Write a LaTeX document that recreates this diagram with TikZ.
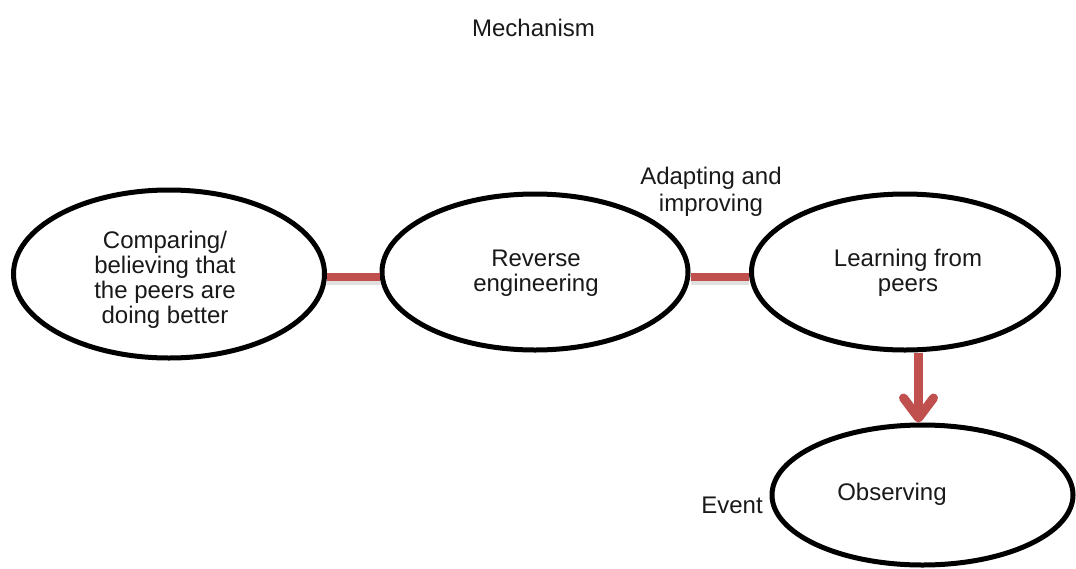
\documentclass[tikz,border=0pt]{standalone}
\usepackage{fontspec}
\setmainfont{Liberation Sans}
\usetikzlibrary{shapes.geometric,arrows.meta}
\definecolor{linkred}{HTML}{C0504D}
\begin{document}
\begin{tikzpicture}[x=1pt,y=-1pt,
  every node/.style={font=\fontsize{24}{25}\selectfont, inner sep=0pt},
  bubble/.style={draw=black, line width=5pt, ellipse, fill=white},
  label/.style={align=center, text=black!90},
  link/.style={draw=linkred, line width=8.5pt,
    preaction={draw=black!12, line width=7pt, transform canvas={yshift=-4.5pt}}},
  flow/.style={draw=linkred, line width=9pt,
    -{Straight Barb[length=20pt, width=30pt, line cap=round, line join=round]}}]
  \useasboundingbox (0,0) rectangle (1076,568);

  % title
  \node[label] (title) at (533.5,28) {Mechanism};

  % ellipses
  \node[bubble, minimum width=311pt, minimum height=168pt] (cmp) at (169,274) {};
  \node[bubble, minimum width=306pt, minimum height=156pt] (rev) at (535,272) {};
  \node[bubble, minimum width=307pt, minimum height=156pt] (learn) at (905,272) {};
  \node[bubble, minimum width=301pt, minimum height=140pt] (obs) at (922.5,495) {};

  % connectors
  \draw[link] (cmp.east |- 0,277) -- (rev.west |- 0,277);
  \draw[link] (rev.east |- 0,277) -- (learn.west |- 0,277);
  \draw[flow] ([xshift=-4pt]obs.north |- learn.south) -- ([xshift=-4pt]obs.north);

  % texts
  \node[label] (cmptext) at (165,280) {Comparing/\\believing that\\the peers are\\doing better};
  \node[label] (revtext) at (536,273.5) {Reverse\\engineering};
  \node[label] (learntext) at (908,273) {Learning from\\peers};
  \node[label, font=\fontsize{24}{27}\selectfont] (adapt) at (711,192) {Adapting and\\improving};
  \node[label, anchor=base] (obstext) at (892,500) {Observing};
  \node[label, anchor=base] (event) at (732,513) {Event};
\end{tikzpicture}
\end{document}
